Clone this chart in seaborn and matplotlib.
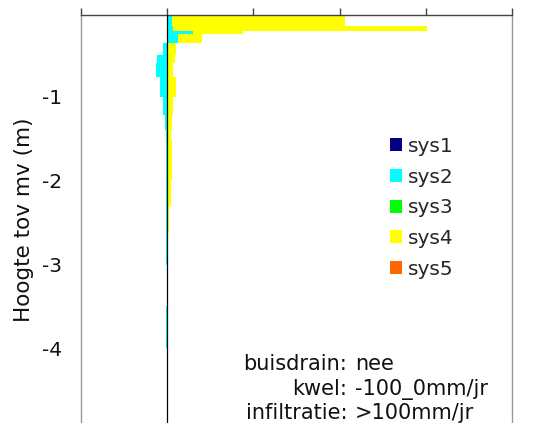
import matplotlib
matplotlib.use("Agg")
import matplotlib.pyplot as plt
import seaborn as sns
import numpy as np

# Soil layers: top and bottom depth below ground level (m)
layer_top = [0.00, 0.153, 0.213, 0.256, 0.363, 0.50, 0.60, 0.76, 1.00, 1.22, 1.40, 1.52, 2.00, 2.30, 2.61, 3.01, 3.50]
layer_bottom = [0.153, 0.213, 0.256, 0.363, 0.50, 0.60, 0.76, 1.00, 1.22, 1.40, 1.52, 2.00, 2.30, 2.61, 3.01, 3.50, 4.00]

# Contribution per system and layer
sys1 = [0.0] * 17
sys2 = [0.05, 0.07, 0.30, 0.124, -0.05, -0.12, -0.13, -0.085, -0.05, -0.03, -0.015, -0.012, -0.01, -0.01, -0.01, 0.0, -0.012]
sys3 = [0.0] * 17
sys4 = [2.01, 2.94, 0.574, 0.275, 0.10, 0.085, 0.07, 0.10, 0.07, 0.055, 0.045, 0.06, 0.04, 0.025, 0.0, 0.0, 0.0]
sys5 = [0.0] * 17

series_names = ["sys1", "sys2", "sys3", "sys4", "sys5"]
series_colors = ["#000080", "#00FFFF", "#00FF00", "#FFFF00", "#FF6600"]

x_ticks = [-1, 0, 1, 2, 3, 4]
y_ticks = [-1, -2, -3, -4]
y_label = "Hoogte tov mv (m)"
info_keys = ["buisdrain:", "kwel:", "infiltratie:"]
info_vals = ["nee", "-100_0mm/jr", ">100mm/jr"]

sns.set_theme(style="white")
plt.rcParams["font.family"] = ["DejaVu Sans"]

W, H = 538, 423
fig = plt.figure(figsize=(W / 100, H / 100), dpi=100)
ax_left, ax_right, ax_top = 81, 512, 15.5
ax = fig.add_axes([ax_left / W, 0, (ax_right - ax_left) / W, 1 - ax_top / H])

top = np.array(layer_top)
bottom = np.array(layer_bottom)
centers = -(top + bottom) / 2
heights = bottom - top

# stack positive contributions to the right, negative ones to the left
pos_left = np.zeros(len(top))
neg_left = np.zeros(len(top))
for name, vals, col in zip(series_names, [sys1, sys2, sys3, sys4, sys5], series_colors):
    v = np.array(vals)
    left = np.where(v >= 0, pos_left, neg_left)
    ax.barh(centers, v, height=heights, left=left, color=col, linewidth=0, label=name, zorder=2)
    pos_left = pos_left + np.where(v > 0, v, 0)
    neg_left = neg_left + np.where(v < 0, v, 0)

ax.axvline(0, color="black", lw=0.9, zorder=3)

ax.set_xlim(-1, 4)
ax.set_ylim(-4.894, -0.031)
ax.set_xticks(x_ticks)
ax.set_yticks(y_ticks)
ax.set_yticklabels([str(t) for t in y_ticks])
ax.xaxis.tick_top()
ax.tick_params(axis="x", top=True, bottom=False, labeltop=False, labelbottom=False,
               length=5, width=1.0, color="#444444", direction="out")
ax.tick_params(axis="y", left=False, length=0, pad=13.7, labelsize=14.5, labelcolor="#111111")
ax.grid(False)

ax.spines["bottom"].set_visible(False)
ax.spines["top"].set_color("#444444")
ax.spines["top"].set_linewidth(1.0)
for s in ("left", "right"):
    ax.spines[s].set_color("#999999")
    ax.spines[s].set_linewidth(1.0)

ax.set_ylabel(y_label, fontsize=15.5, color="#111111")
ax.yaxis.set_label_coords((34 - ax_left) / (ax_right - ax_left), 0.5)

leg = ax.legend(loc="upper left", bbox_to_anchor=(390 / W, 1 - 137 / H),
                bbox_transform=fig.transFigure, frameon=False, fontsize=14.5,
                handlelength=0.62, handleheight=0.62, handletextpad=0.25,
                labelspacing=0.58, borderpad=0, borderaxespad=0)

y_lines = [370, 395, 419]
for k, v, yy in zip(info_keys, info_vals, y_lines):
    fig.text(347 / W, 1 - yy / H, k, ha="right", va="baseline", fontsize=15, color="#111111")
    fig.text(355 / W, 1 - yy / H, v, ha="left", va="baseline", fontsize=15, color="#111111")

fig.savefig("out.png", dpi=100)
